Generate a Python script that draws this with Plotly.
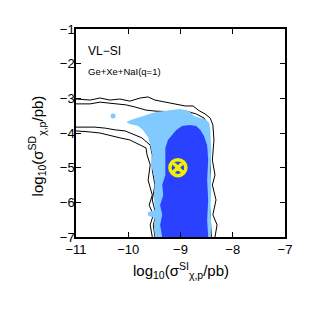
import plotly.graph_objects as go

# ---- data (log10 cross sections) ----
outer_top_x = [-11.00, -10.73, -10.54, -10.35, -10.16, -9.97, -9.77, -9.62, -9.49, -9.29, -9.10, -8.91, -8.76, -8.66, -8.53, -8.43, -8.38, -8.36, -8.39, -8.34, -8.39, -8.32, -8.38, -8.30, -8.34]
outer_top_y = [-3.02, -3.05, -2.99, -3.05, -3.02, -3.08, -2.99, -2.96, -3.05, -3.11, -3.16, -3.22, -3.22, -3.34, -3.45, -3.57, -3.77, -4.20, -4.78, -5.21, -5.50, -5.93, -6.36, -6.65, -7.00]
outer_low_x = [-9.54, -9.58, -9.52, -9.60, -9.54, -9.62, -9.58, -9.64, -9.66, -9.81, -9.97, -10.16, -10.35, -10.54, -10.73, -11.00]
outer_low_y = [-7.00, -6.65, -6.36, -6.08, -5.79, -5.36, -4.92, -4.63, -4.43, -4.32, -4.20, -4.14, -4.06, -4.00, -3.97, -3.94]

inner_top_x = [-11.00, -10.73, -10.54, -10.43, -10.25, -10.04, -9.87, -9.66, -9.47, -9.28, -9.08, -8.89, -8.70, -8.55, -8.47, -8.45, -8.43, -8.45, -8.41]
inner_top_y = [-3.16, -3.16, -3.11, -3.13, -3.16, -3.19, -3.25, -3.34, -3.37, -3.39, -3.39, -3.37, -3.45, -3.57, -3.77, -4.20, -5.07, -5.93, -7.00]
inner_low_x = [-9.49, -9.52, -9.47, -9.54, -9.49, -9.54, -9.54, -9.58, -9.74, -9.87, -10.06, -10.25, -10.44, -10.64, -11.00]
inner_low_y = [-7.00, -6.65, -6.36, -5.93, -5.50, -5.07, -4.63, -4.35, -4.14, -4.06, -3.94, -3.91, -3.86, -3.83, -3.83]

r95_x = [-10.04, -9.91, -9.77, -9.66, -9.54, -9.43, -9.29, -9.14, -9.01, -8.91, -8.82, -8.74, -8.62, -8.51, -8.45, -8.43, -8.41, -8.43, -8.41, -8.43, -8.41, -8.43,
         -9.49, -9.51, -9.49, -9.62, -9.62, -9.49, -9.51, -9.49, -9.56, -9.54, -9.58, -9.62, -9.72, -9.81, -9.97]
r95_y = [-3.68, -3.60, -3.54, -3.48, -3.42, -3.39, -3.37, -3.34, -3.31, -3.34, -3.39, -3.51, -3.57, -3.62, -3.71, -3.91, -4.49, -5.07, -5.64, -6.22, -6.65, -7.00,
         -7.00, -6.65, -6.45, -6.39, -6.28, -6.22, -5.79, -5.36, -4.92, -4.63, -4.35, -4.12, -3.91, -3.80, -3.74]
r95_dot_x = [-10.29]
r95_dot_y = [-3.51]

r68_x = [-9.16, -9.08, -8.97, -8.82, -8.70, -8.62, -8.55, -8.49, -8.47, -8.49, -8.47, -8.49, -8.47,
         -9.35, -9.39, -9.35, -9.39, -9.33, -9.35, -9.29, -9.29, -9.29, -9.24]
r68_y = [-4.06, -3.91, -3.80, -3.77, -3.80, -3.91, -4.09, -4.35, -4.78, -5.36, -5.93, -6.51, -7.00,
         -7.00, -6.65, -6.36, -6.08, -5.79, -5.50, -5.21, -4.78, -4.43, -4.20]

bench_x = [-9.05]
bench_y = [-5.0]

x_ticks = [-11, -10, -9, -8, -7]
y_ticks = [-7, -6, -5, -4, -3, -2, -1]

LIGHT = "rgb(128,202,255)"
DARK = "rgb(42,66,255)"
FONT = "Liberation Sans, Arial, sans-serif"

fig = go.Figure()

def line_trace(x1, y1, x2, y2):
    return go.Scatter(x=x1 + [None] + x2, y=y1 + [None] + y2, mode="lines",
                      line=dict(color="black", width=1), connectgaps=False,
                      hoverinfo="skip", showlegend=False)

fig.add_trace(line_trace(outer_top_x, outer_top_y, outer_low_x, outer_low_y))
fig.add_trace(line_trace(inner_top_x, inner_top_y, inner_low_x, inner_low_y))
fig.add_trace(go.Scatter(x=r95_x, y=r95_y, fill="toself", fillcolor=LIGHT, mode="lines",
                         line=dict(width=0, color=LIGHT), showlegend=False))
fig.add_trace(go.Scatter(x=r95_dot_x, y=r95_dot_y, mode="markers",
                         marker=dict(size=5, color=LIGHT), showlegend=False))
fig.add_trace(go.Scatter(x=r68_x, y=r68_y, fill="toself", fillcolor=DARK, mode="lines",
                         line=dict(width=0, color=DARK), showlegend=False))
fig.add_trace(go.Scatter(x=bench_x, y=bench_y, mode="markers",
                         marker=dict(symbol="circle-x-open", size=16, color="rgb(240,240,0)",
                                     line=dict(width=3.5, color="rgb(240,240,0)")),
                         showlegend=False))

axis_common = dict(showline=True, linecolor="black", linewidth=1.5, mirror="ticks",
                   ticks="inside", ticklen=5, tickwidth=1, tickcolor="black",
                   showgrid=False, zeroline=False,
                   tickfont=dict(family=FONT, size=13, color="black"))

fig.update_xaxes(range=[-11, -7], tickvals=x_ticks, **axis_common)
fig.update_yaxes(range=[-7, -1], tickvals=y_ticks, ticklabelstandoff=-3, **axis_common)

fig.add_annotation(x=-10.81, y=-1.63, xref="x", yref="y", text="VL−SI", showarrow=False,
                   xanchor="left", yanchor="middle", font=dict(family=FONT, size=12, color="black"))
fig.add_annotation(x=-10.81, y=-2.24, xref="x", yref="y", text="Ge+Xe+NaI(q=1)", showarrow=False,
                   xanchor="left", yanchor="middle", font=dict(family=FONT, size=9.5, color="black"))
fig.add_annotation(x=0.5, y=-0.16, xref="paper", yref="paper",
                   text="log<sub>10</sub>(σ<sup>SI</sup><sub>χ,p</sub>/pb)", showarrow=False,
                   xanchor="center", yanchor="middle", font=dict(family=FONT, size=15, color="black"))
fig.add_annotation(x=-0.187, y=0.44, xref="paper", yref="paper",
                   text="log<sub>10</sub>(σ<sup>SD</sup><sub>χ,p</sub>/pb)", showarrow=False,
                   textangle=-90, xanchor="center", yanchor="middle",
                   font=dict(family=FONT, size=15, color="black"))

# page body adds an 8px offset; margins compensate so the axes land where the reference has them
fig.update_layout(width=313, height=313, margin=dict(l=68, r=36, t=21, b=84),
                  paper_bgcolor="white", plot_bgcolor="white", showlegend=False)

fig.write_html("out.html")
